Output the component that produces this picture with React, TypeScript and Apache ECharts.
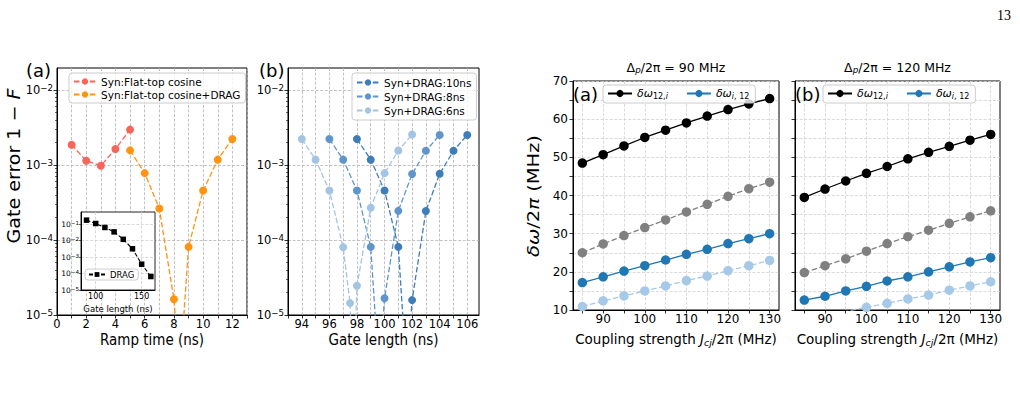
import React, { useEffect, useRef } from 'react';
import * as echarts from 'echarts';

const FONT = 'DejaVu Sans';

// ---------- Left figure, panel (a): gate error vs ramp time ----------
const rampTimeCos = [1, 2, 3, 4, 5];
const errCos = [1.87e-3, 1.14e-3, 0.98e-3, 1.64e-3, 2.97e-3];
const rampTimeDrag = [5, 6, 7, 8, 8.4, 9, 10, 11, 12];
const errDrag = [1.57e-3, 7.8e-4, 2.63e-4, 1.62e-5, 1.6e-6, 8.1e-5, 4.58e-4, 1.18e-3, 2.23e-3];

// inset: DRAG gate error vs gate length
const insetGate = [90, 100, 110, 120, 130, 140, 150, 160];
const insetErr = [0.176, 0.11, 0.063, 0.034, 0.012, 3.2e-3, 3.7e-4, 6.6e-5];

// ---------- Left figure, panel (b): gate error vs gate length ----------
const gate10 = [98, 99, 100, 101, 101.6, 102, 103, 104, 105, 106];
const err10 = [2.23e-3, 1.18e-3, 4.58e-4, 8.1e-5, 1.6e-6, 1.58e-5, 2.44e-4, 7.65e-4, 1.55e-3, 2.52e-3];
const gate8 = [96, 97, 98, 99, 99.6, 100, 101, 102, 103, 104];
const err8 = [2.23e-3, 1.18e-3, 4.58e-4, 8.1e-5, 1.6e-6, 1.67e-5, 2.45e-4, 7.6e-4, 1.55e-3, 2.52e-3];
const gate6 = [94, 95, 96, 97, 97.5, 97.75, 98, 99, 100, 101, 102];
const err6 = [2.23e-3, 1.18e-3, 4.58e-4, 8e-5, 1.44e-5, 1e-6, 2.45e-5, 2.7e-4, 7.8e-4, 1.56e-3, 2.55e-3];

// ---------- Right figure: frequency shifts vs coupling strength ----------
const coupling = [85, 90, 95, 100, 105, 110, 115, 120, 125, 130];
const d90_12i = [48.5, 50.7, 53.0, 55.2, 57.1, 59.0, 60.8, 62.5, 64.0, 65.4];
const d90_12i_b = [25.0, 27.3, 29.5, 31.6, 33.6, 35.7, 37.7, 39.8, 41.8, 43.5];
const d90_i12 = [17.2, 18.7, 20.2, 21.6, 23.1, 24.6, 25.9, 27.4, 28.7, 30.0];
const d90_i12_b = [10.9, 12.4, 13.7, 15.0, 16.3, 17.7, 18.9, 20.3, 21.6, 23.0];
const d120_12i = [39.5, 41.7, 43.8, 45.8, 47.6, 49.6, 51.3, 52.9, 54.5, 56.0];
const d120_12i_b = [19.8, 21.6, 23.4, 25.4, 27.4, 29.2, 30.9, 32.7, 34.4, 36.0];
const d120_i12 = [12.6, 13.6, 15.0, 16.2, 17.6, 18.7, 20.0, 21.3, 22.6, 23.7];
const d120_i12_b = [7.2, 8.4, 9.6, 10.7, 11.75, 12.9, 13.9, 15.2, 16.3, 17.4];

// ---------- ticks ----------
const rampLabels = [0, 2, 4, 6, 8, 10, 12];
const rampTicks = [0, 1, 2, 3, 4, 5, 6, 7, 8, 9, 10, 11, 12, 13];
const gateLabels = [94, 96, 98, 100, 102, 104, 106];
const gateTicks = [93, 94, 95, 96, 97, 98, 99, 100, 101, 102, 103, 104, 105, 106];
const couplingLabels = [90, 100, 110, 120, 130];
const couplingTicks = [85, 90, 95, 100, 105, 110, 115, 120, 125, 130];
const shiftLabels = [10, 20, 30, 40, 50, 60, 70];
const shiftTicks = [10, 15, 20, 25, 30, 35, 40, 45, 50, 55, 60, 65, 70];
const decades = [1e-5, 1e-4, 1e-3, 1e-2];
const minorLog = [2e-5, 3e-5, 4e-5, 5e-5, 6e-5, 7e-5, 8e-5, 9e-5, 2e-4, 3e-4, 4e-4, 5e-4, 6e-4, 7e-4, 8e-4, 9e-4,
  2e-3, 3e-3, 4e-3, 5e-3, 6e-3, 7e-3, 8e-3, 9e-3];
const insetDecades = [1e-5, 1e-4, 1e-3, 1e-2, 1e-1];
const insetGateLabels = [100, 150];

const RED = '#f8665a';
const ORANGE = '#ff9412';
const BLUE10 = '#3f7db9';
const BLUE8 = '#5f95ca';
const BLUE6 = '#a4c4e3';
const TAB_BLUE = '#1f77b4';
const LIGHT_BLUE = '#a5c9e6';
const GRAY = '#808080';

const pts = (xs: number[], ys: number[]) => xs.map((x, i) => [x, ys[i]]);

const supFmt = (v: number) => {
  const e = Math.round(Math.log10(v));
  return `{b|10}{s|−${-e}}`;
};

const supRich = (fs: number) => ({
  b: { fontSize: fs, fontFamily: FONT, color: '#000' },
  s: { fontSize: fs * 0.75, fontFamily: FONT, color: '#000', verticalAlign: 'top', padding: [0, 0, fs * 0.35, 0] },
});

const spine = { show: true, onZero: false, lineStyle: { color: '#000', width: 1 } };

const xAx = (gridIndex: number, min: number, max: number, ticks: number[], labels: number[], gridColor: string, fs: number) => ({
  type: 'value', gridIndex, min, max,
  axisLine: spine,
  axisTick: { show: true, customValues: ticks, length: 3.5, lineStyle: { color: '#000', width: 0.8 } },
  axisLabel: { show: true, customValues: labels, fontSize: fs, fontFamily: FONT, color: '#000', margin: 3 },
  splitLine: { show: true, lineStyle: { color: gridColor, type: [3, 1.6], width: 0.8 } },
});

const logY = (gridIndex: number, min: number, max: number, ticks: number[], fs: number, gridColor: string) => ({
  type: 'log', logBase: 10, gridIndex, min, max,
  axisLine: spine,
  axisTick: { show: true, customValues: ticks, length: 3.5, lineStyle: { color: '#000', width: 0.8 } },
  axisLabel: { show: true, customValues: ticks, formatter: supFmt, rich: supRich(fs), margin: 4 },
  splitLine: { show: true, lineStyle: { color: gridColor, type: [3, 1.6], width: 0.8 } },
});

const minorY = (gridIndex: number, min: number, max: number) => ({
  type: 'log', logBase: 10, gridIndex, min, max, position: 'left',
  axisLine: { show: false },
  axisTick: { show: true, customValues: minorLog, length: 2, lineStyle: { color: '#000', width: 0.6 } },
  axisLabel: { show: false },
  splitLine: { show: false },
});

const linY = (gridIndex: number, showLabels: boolean) => ({
  type: 'value', gridIndex, min: 10, max: 70, interval: 5,
  axisLine: spine,
  axisTick: { show: true, customValues: shiftTicks, length: 3.5, lineStyle: { color: '#000', width: 0.8 } },
  axisLabel: { show: showLabels, customValues: shiftLabels, fontSize: 12, fontFamily: FONT, color: '#000', margin: 5 },
  splitLine: { show: true, lineStyle: { color: '#d2d2d2', type: [3, 1.6], width: 0.8 } },
});

const line = (name: string, xi: number, yi: number, data: number[][], color: string, dashed: boolean, size: number, extra: any = {}) => ({
  type: 'line', name, xAxisIndex: xi, yAxisIndex: yi, data,
  symbol: 'circle', symbolSize: size, showSymbol: true, clip: true,
  lineStyle: { color, width: 1.3, type: dashed ? [5.5, 2.4] : 'solid' },
  itemStyle: { color, borderWidth: 0 },
  emphasis: { disabled: true },
  z: 2,
  ...extra,
});

const fmtShift = (n: string) =>
  n === 'd12i' ? '{i|δω}{sub|12,}{subi|i}' : '{i|δω}{subi|i}{sub|, 12}';

const shiftRich = {
  i: { fontSize: 11, fontFamily: FONT, fontStyle: 'italic', color: '#000' },
  sub: { fontSize: 8, fontFamily: FONT, color: '#000', verticalAlign: 'bottom', padding: [5, 0, 0, 0] },
  subi: { fontSize: 8, fontFamily: FONT, fontStyle: 'italic', color: '#000', verticalAlign: 'bottom', padding: [5, 0, 0, 0] },
};

const legendBase = {
  backgroundColor: 'rgba(255,255,255,0.8)',
  borderColor: '#cccccc',
  borderWidth: 1,
  borderRadius: 3,
  itemWidth: 22,
  itemHeight: 8,
  selectedMode: false,
  textStyle: { fontSize: 10.5, fontFamily: FONT, color: '#000' },
};

const txt = (text: string, x: number, y: number, size: number, extra: any = {}, rich?: any, align = 'center') => ({
  type: 'text', x, y, z: 20,
  style: {
    text, fill: '#000', font: `${size}px "${FONT}"`,
    textAlign: align, textVerticalAlign: 'middle', rich,
  },
  ...extra,
});

const nameRich = (fs: number) => ({
  n: { fontSize: fs, fontFamily: FONT, fill: '#000' },
  i: { fontSize: fs, fontFamily: FONT, fontStyle: 'italic', fill: '#000' },
  sub: { fontSize: fs * 0.7, fontFamily: FONT, fontStyle: 'italic', fill: '#000', verticalAlign: 'bottom', padding: [fs * 0.45, 0, 0, 0] },
});

const option: any = {
  animation: false,
  backgroundColor: '#ffffff',
  grid: [
    { left: 57, top: 68, width: 190, height: 247, show: true, borderColor: '#000', borderWidth: 1 },
    { left: 288, top: 68, width: 191, height: 247, show: true, borderColor: '#000', borderWidth: 1 },
    { left: 573, top: 81, width: 206, height: 229, show: true, borderColor: '#000', borderWidth: 1 },
    { left: 795, top: 81, width: 205, height: 229, show: true, borderColor: '#000', borderWidth: 1 },
    { left: 81, top: 212, width: 74, height: 78, show: true, borderColor: '#222', borderWidth: 1, backgroundColor: '#ffffff', z: 1 },
  ],
  xAxis: [
    xAx(0, 0, 13, rampTicks, rampLabels, '#b4b4b4', 11.5),
    xAx(1, 93, 106.85, gateTicks, gateLabels, '#b4b4b4', 11.5),
    xAx(2, 82.75, 132.25, couplingTicks, couplingLabels, '#d2d2d2', 12),
    xAx(3, 82.75, 132.25, couplingTicks, couplingLabels, '#d2d2d2', 12),
    {
      ...xAx(4, 84, 164.5, insetGateLabels, insetGateLabels, '#cfcfcf', 8),
      z: 3,
      axisTick: { show: true, customValues: insetGateLabels, length: 2, lineStyle: { color: '#000', width: 0.6 } },
      axisLabel: { show: true, customValues: insetGateLabels, fontSize: 8, fontFamily: FONT, color: '#000', margin: 2 },
    },
  ],
  yAxis: [
    logY(0, 1e-5, 0.0197, decades, 11.5, '#b4b4b4'),
    logY(1, 1e-5, 0.0197, decades, 11.5, '#b4b4b4'),
    linY(2, true),
    linY(3, false),
    {
      ...logY(4, 1e-5, 0.55, insetDecades, 7.5, '#cfcfcf'),
      z: 3,
      axisTick: { show: true, customValues: insetDecades, length: 2, lineStyle: { color: '#000', width: 0.6 } },
      axisLabel: { show: true, customValues: insetDecades, formatter: supFmt, rich: supRich(7.5), margin: 2 },
    },
    minorY(0, 1e-5, 0.0197),
    minorY(1, 1e-5, 0.0197),
  ],
  legend: [
    {
      ...legendBase,
      data: ['Syn:Flat-top cosine', 'Syn:Flat-top cosine+DRAG'],
      orient: 'vertical', left: 69, top: 73, itemGap: 2, padding: [3, 5, 3, 4],
    },
    {
      ...legendBase,
      data: ['Syn+DRAG:10ns', 'Syn+DRAG:8ns', 'Syn+DRAG:6ns'],
      orient: 'vertical', left: 352, top: 73, itemGap: 3, padding: [4, 5, 4, 4],
    },
    {
      ...legendBase,
      data: ['DRAG'],
      orient: 'vertical', left: 85, top: 269, itemGap: 2, padding: [1, 4, 1, 3], itemWidth: 16, itemHeight: 6,
      textStyle: { fontSize: 8.5, fontFamily: FONT, color: '#000' }, z: 6,
    },
    {
      ...legendBase,
      data: ['d12i', 'di12'],
      orient: 'horizontal', left: 603, top: 85, itemGap: 18, itemWidth: 24, itemHeight: 9, padding: [3, 6, 3, 4],
      formatter: fmtShift, textStyle: { fontSize: 11, fontFamily: FONT, color: '#000', rich: shiftRich },
    },
    {
      ...legendBase,
      data: ['d12i', 'di12'],
      orient: 'horizontal', left: 823, top: 85, itemGap: 18, itemWidth: 24, itemHeight: 9, padding: [3, 6, 3, 4],
      formatter: fmtShift, textStyle: { fontSize: 11, fontFamily: FONT, color: '#000', rich: shiftRich },
    },
  ],
  series: [
    line('Syn:Flat-top cosine', 0, 0, pts(rampTimeCos, errCos), RED, true, 8),
    line('Syn:Flat-top cosine+DRAG', 0, 0, pts(rampTimeDrag, errDrag), ORANGE, true, 8),
    line('DRAG', 4, 4, pts(insetGate, insetErr), '#000', true, 5.5, { symbol: 'rect', z: 4, lineStyle: { color: '#000', width: 1.1, type: [4, 2] } }),
    line('Syn+DRAG:10ns', 1, 1, pts(gate10, err10), BLUE10, true, 8),
    line('Syn+DRAG:8ns', 1, 1, pts(gate8, err8), BLUE8, true, 8),
    line('Syn+DRAG:6ns', 1, 1, pts(gate6, err6), BLUE6, true, 8),
    line('d12i', 2, 2, pts(coupling, d90_12i), '#000', false, 9.5),
    line('d12i_b', 2, 2, pts(coupling, d90_12i_b), GRAY, true, 9.5),
    line('di12', 2, 2, pts(coupling, d90_i12), TAB_BLUE, false, 9.5),
    line('di12_b', 2, 2, pts(coupling, d90_i12_b), LIGHT_BLUE, true, 9.5),
    line('d12i', 3, 3, pts(coupling, d120_12i), '#000', false, 9.5),
    line('d12i_b', 3, 3, pts(coupling, d120_12i_b), GRAY, true, 9.5),
    line('di12', 3, 3, pts(coupling, d120_i12), TAB_BLUE, false, 9.5),
    line('di12_b', 3, 3, pts(coupling, d120_i12_b), LIGHT_BLUE, true, 9.5),
  ],
  graphic: [
    { type: 'text', x: 1011, y: 15, z: 20, style: { text: '13', fill: '#000', font: '14px "Liberation Serif"', textAlign: 'right', textVerticalAlign: 'middle' } },
    txt('(a)', 26, 70, 18, {}, undefined, 'left'),
    txt('(b)', 259, 70, 18, {}, undefined, 'left'),
    txt('(a)', 573, 94, 18, {}, undefined, 'left'),
    txt('(b)', 795, 94, 18, {}, undefined, 'left'),
    txt('Ramp time (ns)', 152, 340, 13.5, { scaleY: 1.15 }),
    txt('Gate length (ns)', 383.5, 340, 13.5, { scaleY: 1.15 }),
    txt('{n|Coupling strength }{i|J}{sub|cj}{n|/2π (MHz)}', 676, 339, 13.5, {}, nameRich(13.5)),
    txt('{n|Coupling strength }{i|J}{sub|cj}{n|/2π (MHz)}', 897.5, 339, 13.5, {}, nameRich(13.5)),
    txt('{n|Gate error 1 − }{i|F}', 14, 166, 17, { rotation: Math.PI / 2, scaleX: 1.12 }, nameRich(17)),
    txt('{i|δω}{n|/2}{i|π}{n| (MHz)}', 533, 196, 16.5, { rotation: Math.PI / 2, scaleX: 1.18 }, nameRich(16.5)),
    txt('{n|Δ}{sub|p}{n|/2π = 90 MHz}', 676, 67, 12.5, {}, nameRich(12.5)),
    txt('{n|Δ}{sub|p}{n|/2π = 120 MHz}', 897.5, 67, 12.5, {}, nameRich(12.5)),
    txt('Gate length (ns)', 118, 309, 8.5),
  ],
};

export default function App() {
  const ref = useRef<HTMLDivElement>(null);
  useEffect(() => {
    if (!ref.current) return;
    const chart = echarts.init(ref.current, null, { renderer: 'svg' });
    chart.setOption(option);
    return () => chart.dispose();
  }, []);
  return (
    <div
      ref={ref}
      style={{ position: 'absolute', left: 0, top: 0, width: 1020, height: 407, background: '#fff' }}
    />
  );
}
